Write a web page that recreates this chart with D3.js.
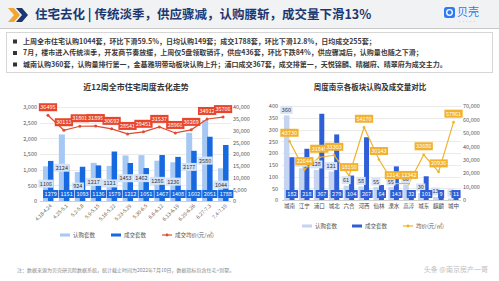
<!DOCTYPE html>
<html>
<head>
<meta charset="utf-8">
<script src="https://cdn.jsdelivr.net/npm/d3@7"></script>
<style>
  body { margin: 0; background: #fff; }
  svg { display: block; font-family: "Noto Sans CJK SC", "Noto Sans", sans-serif; }
</style>
</head>
<body>
<div id="chart"></div>
<script>
// ---- data ----
var titleText = "住宅去化 | 传统淡季，供应骤减，认购腰斩，成交量下滑13%";
var bullets = [
  "上周全市住宅认购1044套，环比下滑59.5%，日均认购149套；成交1788套，环比下滑12.8%，日均成交255套；",
  "7月，楼市进入传统淡季，开发商节奏放缓，上周仅5盘领取销许，供应436套，环比下跌84%，供应骤减后，认购量也随之下滑；",
  "城南认购360套，认购量排行第一，金基雅玥带动板块认购上升；浦口成交367套，成交排第一，天悦锦麟、晴樾府、晴翠府为成交主力。"
];

var weeks = ["4.18-4.24", "4.25-5.1", "5.2-5.8", "5.9-5.15", "5.16-5.22", "5.23-5.29",
             "5.30-6.5", "6.6-6.12", "6.13-6.19", "6.20-6.26", "6.27-7.3", "7.4-7.10"];
var weekSubscribe = [1106, 2124, 924, 1217, 1121, 1453, 1462, 1286, 1236, 2177, 2580, 1044];
var weekDeal = [1279, 1151, 1093, 1136, 1579, 1212, 1051, 1467, 1408, 1602, 2051, 1788];
var weekPrice = [36495, 30113, 31801, 31895, 30692, 28541, 29451, 31537, 28960, 30269, 34912, 35706];
var weekLeftTicks = [0, 500, 1000, 1500, 2000, 2500, 3000];
var weekRightTicks = [0, 5000, 10000, 15000, 20000, 25000, 30000, 35000, 40000];

var areas = ["城南", "江宁", "浦口", "城北", "六合", "河西", "仙林", "溧水", "高淳", "城东", "麒麟", "城中"];
var areaSubscribe = [360, 135, 128, 121, 61, 58, 55, 55, 66, 30, 13, 7];
var areaDeal = [182, 218, 367, 279, 104, 267, 64, 143, 32, 101, 9, 11];
var areaPrice = [43730, 22644, 31845, 33303, 18150, 54170, 30143, 12143, 12342, 33686, 20936, 57961];
var areaLeftTicks = [0, 50, 100, 150, 200, 250, 300, 350, 400];
var areaRightTicks = [0, 10000, 20000, 30000, 40000, 50000, 60000, 70000];

var width = 499;
var height = 281;

var svg = d3.select("#chart")
  .append("svg")
  .attr("width", width)
  .attr("height", height);

// ---- header ----
svg.append("rect").attr("x", 0).attr("y", 0).attr("width", width).attr("height", 28).attr("fill", "#f1f2f4");
svg.append("line").attr("x1", 0).attr("x2", width).attr("y1", 28.5).attr("y2", 28.5).attr("stroke", "#c8c8c8");

// chevrons
svg.append("path").attr("d", "M8,8 L14,8 L20,15 L14,22 L8,22 L14,15 Z").attr("fill", "#f2a531");
svg.append("path").attr("d", "M16,8 L22,8 L28,15 L22,22 L16,22 L22,15 Z").attr("fill", "#1c3770");

svg.append("text")
  .attr("x", 35).attr("y", 15).attr("dy", "0.35em")
  .attr("font-size", 12.5).attr("font-weight", "bold").attr("fill", "#1c3770")
  .text(titleText);

// logo
svg.append("rect").attr("x", 444).attr("y", 7).attr("width", 11).attr("height", 11).attr("rx", 2.5).attr("fill", "#2f7bf5");
svg.append("circle").attr("cx", 449.5).attr("cy", 12.5).attr("r", 2.8).attr("fill", "none").attr("stroke", "#fff").attr("stroke-width", 1.3);
svg.append("text").attr("x", 457).attr("y", 12.5).attr("dy", "0.35em")
  .attr("font-size", 11).attr("fill", "#2f7bf5").text("贝壳");
svg.append("text").attr("x", 458).attr("y", 22).attr("dy", "0.35em")
  .attr("font-size", 3).attr("fill", "#2f7bf5").text("• • • • •");

// ---- bullet box ----
svg.append("rect").attr("x", 6.5).attr("y", 32.5).attr("width", 486).attr("height", 40)
  .attr("fill", "#fff").attr("stroke", "#d6d6d6");

bullets.forEach(function(b, i) {
  var y = 41.5 + i * 11.5;
  svg.append("rect").attr("x", 13).attr("y", y - 2).attr("width", 4).attr("height", 4).attr("fill", "#333");
  svg.append("text").attr("x", 23).attr("y", y).attr("dy", "0.35em")
    .attr("font-size", 7).attr("font-weight", "bold").attr("fill", "#3a3a3a").text(b);
});

// label with background box
function boxLabel(g, x, y, txt, bg, fg) {
  var lg = g.append("g");
  var t = lg.append("text")
    .attr("x", x).attr("y", y).attr("dy", "0.35em")
    .attr("text-anchor", "middle").attr("font-size", 5.5).attr("fill", fg)
    .text(txt);
  var w = t.node().getComputedTextLength();
  lg.insert("rect", "text")
    .attr("x", x - w / 2 - 1.5).attr("y", y - 4)
    .attr("width", w + 3).attr("height", 8)
    .attr("fill", bg);
}

function legendItems(g, items, y) {
  items.forEach(function(it) {
    if (it.type == "rect") {
      g.append("rect").attr("x", it.x).attr("y", y - 1.5).attr("width", 10).attr("height", 3).attr("fill", it.color);
    } else {
      g.append("line").attr("x1", it.x).attr("x2", it.x + 10).attr("y1", y).attr("y2", y)
        .attr("stroke", it.color).attr("stroke-width", 1.2);
      g.append("circle").attr("cx", it.x + 5).attr("cy", y).attr("r", 1.4).attr("fill", it.color);
    }
    g.append("text").attr("x", it.x + 13).attr("y", y).attr("dy", "0.35em")
      .attr("font-size", 5.5).attr("fill", "#555").text(it.label);
  });
}

// ---- left chart ----
var gl = svg.append("g");

gl.append("text").attr("x", 136).attr("y", 87).attr("dy", "0.35em").attr("text-anchor", "middle")
  .attr("font-size", 8).attr("font-weight", "bold").attr("fill", "#333").text("近12周全市住宅周度去化走势");

var xL = d3.scaleBand().domain(weeks).range([40, 231]);
var yL = d3.scaleLinear().domain([0, 3000]).range([201, 107]);
var yLR = d3.scaleLinear().domain([0, 40000]).range([201, 107]);

gl.selectAll(".grid").data(weekLeftTicks).enter().append("line")
  .attr("x1", 40).attr("x2", 231)
  .attr("y1", function(d) { return Math.round(yL(d)) + 0.5; })
  .attr("y2", function(d) { return Math.round(yL(d)) + 0.5; })
  .attr("stroke", function(d) { return d == 0 ? "#bbb" : "#e3e3e3"; }).attr("stroke-width", 0.7);

var axL = gl.append("g").attr("transform", "translate(40,0)")
  .call(d3.axisLeft(yL).tickValues(weekLeftTicks).tickSize(0).tickPadding(3));
axL.select(".domain").remove();
axL.selectAll("text").attr("font-size", 5.5).attr("fill", "#555").attr("font-family", "Noto Sans CJK SC");

var axLR = gl.append("g").attr("transform", "translate(231,0)")
  .call(d3.axisRight(yLR).tickValues(weekRightTicks).tickSize(0).tickPadding(2));
axLR.select(".domain").remove();
axLR.selectAll("text").attr("font-size", 5.5).attr("fill", "#555").attr("font-family", "Noto Sans CJK SC");

gl.selectAll(".xl").data(weeks).enter().append("text")
  .attr("transform", function(d) { return "translate(" + (xL(d) + xL.bandwidth() / 2 + 3) + ",205) rotate(-45)"; })
  .attr("text-anchor", "end").attr("dy", "0.35em")
  .attr("font-size", 5).attr("fill", "#555").text(function(d) { return d; });

gl.selectAll(".sub").data(weekSubscribe).enter().append("rect")
  .attr("x", function(d, i) { return xL(weeks[i]) + xL.bandwidth() / 2 - 5; })
  .attr("width", 6)
  .attr("y", function(d) { return yL(d); })
  .attr("height", function(d) { return yL(0) - yL(d); })
  .attr("fill", "#a6c8f4");

gl.selectAll(".deal").data(weekDeal).enter().append("rect")
  .attr("x", function(d, i) { return xL(weeks[i]) + xL.bandwidth() / 2; })
  .attr("width", 5.5)
  .attr("y", function(d) { return yL(d); })
  .attr("height", function(d) { return yL(0) - yL(d); })
  .attr("fill", "#1769e0");

var lineL = d3.line()
  .x(function(d, i) { return xL(weeks[i]) + xL.bandwidth() / 2; })
  .y(function(d) { return yLR(d); });

gl.append("path").datum(weekPrice).attr("d", lineL)
  .attr("fill", "none").attr("stroke", "#e04a30").attr("stroke-width", 1.2);
gl.selectAll(".pt").data(weekPrice).enter().append("circle")
  .attr("cx", function(d, i) { return xL(weeks[i]) + xL.bandwidth() / 2; })
  .attr("cy", function(d) { return yLR(d); })
  .attr("r", 1.5).attr("fill", "#e04a30");

weekSubscribe.forEach(function(d, i) {
  boxLabel(gl, xL(weeks[i]) + xL.bandwidth() / 2 - 2, (yL(0) + yL(d)) / 2, d, "#d3e3f9", "#333");
});
weekDeal.forEach(function(d, i) {
  boxLabel(gl, xL(weeks[i]) + xL.bandwidth() / 2 + 2.75, 194, d, "#1769e0", "#fff");
});
weekPrice.forEach(function(d, i) {
  boxLabel(gl, xL(weeks[i]) + xL.bandwidth() / 2, yLR(d) - 8, d, "#e8462c", "#fff");
});

legendItems(gl, [
  {type: "rect", x: 60, color: "#a6c8f4", label: "认购套数"},
  {type: "rect", x: 111, color: "#1769e0", label: "成交套数"},
  {type: "line", x: 162, color: "#e04a30", label: "成交均价(元/㎡)"}
], 235);

// ---- right chart ----
var gr = svg.append("g");

gr.append("text").attr("x", 370).attr("y", 87).attr("dy", "0.35em").attr("text-anchor", "middle")
  .attr("font-size", 7.5).attr("font-weight", "bold").attr("fill", "#333").text("周度南京各板块认购及成交量对比");

var xR = d3.scaleBand().domain(areas).range([282, 461]);
var yR = d3.scaleLinear().domain([0, 400]).range([200, 106]);
var yRR = d3.scaleLinear().domain([0, 70000]).range([200, 106]);

gr.selectAll(".grid").data(areaLeftTicks).enter().append("line")
  .attr("x1", 282).attr("x2", 461)
  .attr("y1", function(d) { return Math.round(yR(d)) + 0.5; })
  .attr("y2", function(d) { return Math.round(yR(d)) + 0.5; })
  .attr("stroke", function(d) { return d == 0 ? "#bbb" : "#e3e3e3"; }).attr("stroke-width", 0.7);

var axR = gr.append("g").attr("transform", "translate(281,0)")
  .call(d3.axisLeft(yR).tickValues(areaLeftTicks).tickSize(0).tickPadding(3));
axR.select(".domain").remove();
axR.selectAll("text").attr("font-size", 5.5).attr("fill", "#555").attr("font-family", "Noto Sans CJK SC");

var axRR = gr.append("g").attr("transform", "translate(461,0)")
  .call(d3.axisRight(yRR).tickValues(areaRightTicks).tickSize(0).tickPadding(2));
axRR.select(".domain").remove();
axRR.selectAll("text").attr("font-size", 5.5).attr("fill", "#555").attr("font-family", "Noto Sans CJK SC");

gr.selectAll(".xl").data(areas).enter().append("text")
  .attr("x", function(d) { return xR(d) + xR.bandwidth() / 2; })
  .attr("y", 206).attr("dy", "0.35em").attr("text-anchor", "middle")
  .attr("font-size", 5.5).attr("fill", "#444").text(function(d) { return d; });

gr.selectAll(".sub").data(areaSubscribe).enter().append("rect")
  .attr("x", function(d, i) { return xR(areas[i]) + xR.bandwidth() / 2 - 5.5; })
  .attr("width", 5.5)
  .attr("y", function(d) { return yR(d); })
  .attr("height", function(d) { return yR(0) - yR(d); })
  .attr("fill", "#c4d4f1");

gr.selectAll(".deal").data(areaDeal).enter().append("rect")
  .attr("x", function(d, i) { return xR(areas[i]) + xR.bandwidth() / 2; })
  .attr("width", 5)
  .attr("y", function(d) { return yR(d); })
  .attr("height", function(d) { return yR(0) - yR(d); })
  .attr("fill", "#2f5fd6");

var lineR = d3.line()
  .x(function(d, i) { return xR(areas[i]) + xR.bandwidth() / 2; })
  .y(function(d) { return yRR(d); });

gr.append("path").datum(areaPrice).attr("d", lineR)
  .attr("fill", "none").attr("stroke", "#f0b22c").attr("stroke-width", 1.2);
gr.selectAll(".pt").data(areaPrice).enter().append("circle")
  .attr("cx", function(d, i) { return xR(areas[i]) + xR.bandwidth() / 2; })
  .attr("cy", function(d) { return yRR(d); })
  .attr("r", 1.3).attr("fill", "#f0b22c");

areaSubscribe.forEach(function(d, i) {
  boxLabel(gr, xR(areas[i]) + xR.bandwidth() / 2 - 3, yR(d) - 5.5, d, "#d9e3f5", "#333");
});
areaDeal.forEach(function(d, i) {
  boxLabel(gr, xR(areas[i]) + xR.bandwidth() / 2 + 2.5, 194, d, "#2f5fd6", "#fff");
});
areaPrice.forEach(function(d, i) {
  boxLabel(gr, xR(areas[i]) + xR.bandwidth() / 2, yRR(d) - 8.5, d, "#f2b22e", "#fff");
});

legendItems(gr, [
  {type: "rect", x: 302, color: "#c4d4f1", label: "认购套数"},
  {type: "rect", x: 352, color: "#2f5fd6", label: "成交套数"},
  {type: "line", x: 403, color: "#f0b22c", label: "均价(元/㎡)"}
], 226);

// ---- footer ----
svg.append("text").attr("x", 17).attr("y", 270).attr("dy", "0.35em")
  .attr("font-size", 5).attr("fill", "#888")
  .text("注：数据来源为贝壳研究院数据系统，统计截止时间为2022年7月10日，数据指标包含住宅+别墅。");
svg.append("text").attr("x", 488).attr("y", 270).attr("dy", "0.35em").attr("text-anchor", "end")
  .attr("font-size", 7).attr("fill", "#bdbdbd").text("头条 @南京房产一哥");
</script>
</body>
</html>
